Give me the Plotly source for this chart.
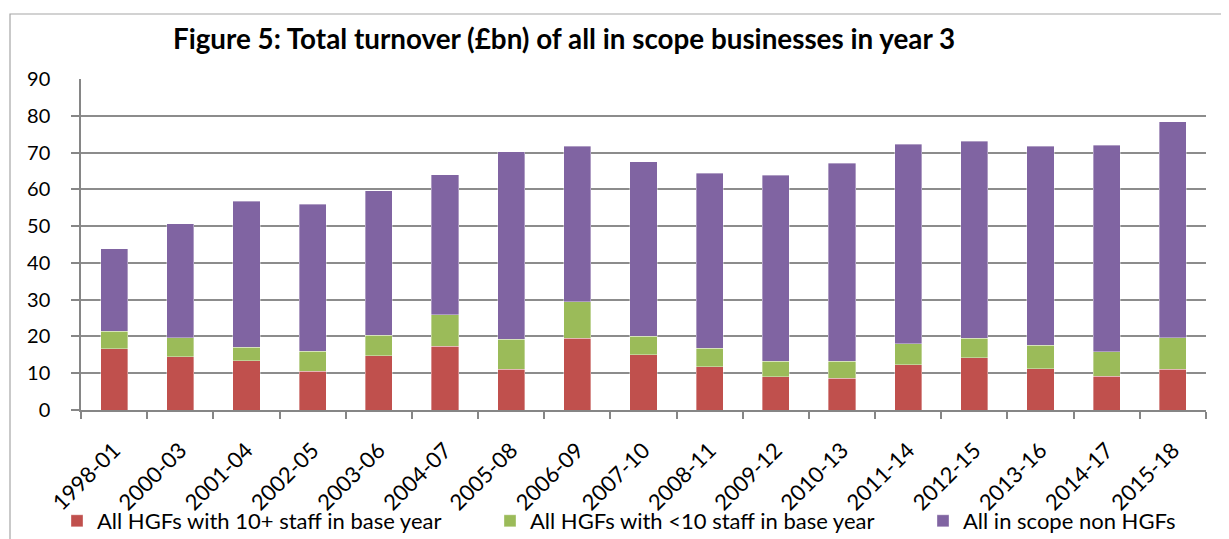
import plotly.graph_objects as go

categories = ["1998-01", "2000-03", "2001-04", "2002-05", "2003-06", "2004-07", "2005-08",
              "2006-09", "2007-10", "2008-11", "2009-12", "2010-13", "2011-14", "2012-15",
              "2013-16", "2014-17", "2015-18"]

# values (£bn)
hgf_10plus = [16.6, 14.5, 13.4, 10.5, 14.7, 17.4, 11.1, 19.5, 15.0, 11.7, 9.0, 8.7, 12.3, 14.2, 11.2, 9.2, 11.1]
hgf_lt10 = [4.8, 5.1, 3.7, 5.5, 5.6, 8.5, 8.2, 9.9, 5.1, 5.1, 4.3, 4.6, 5.7, 5.3, 6.4, 6.6, 8.5]
non_hgf = [22.4, 31.1, 39.7, 40.0, 39.3, 38.0, 50.9, 42.3, 47.4, 47.6, 50.5, 53.8, 54.2, 53.6, 54.1, 56.2, 58.8]

series_names = ["All HGFs with 10+ staff in base year",
                "All HGFs with <10 staff in base year",
                "All in scope non HGFs"]
colors = ["#C0504D", "#9BBB59", "#8064A2"]
legend_widths = [388, 388, 230]

y_ticks = [0, 10, 20, 30, 40, 50, 60, 70, 80, 90]

FONT = "Lato"
AX = "#868686"
CLEAR = "rgba(0,0,0,0)"
n = len(categories)
x_pos = list(range(n))          # category slots
x_bounds = [i - 0.5 for i in range(n + 1)]  # slot boundaries (tick marks)

fig = go.Figure()
for name, vals, col, lw in zip(series_names, [hgf_10plus, hgf_lt10, non_hgf], colors, legend_widths):
    fig.add_trace(go.Bar(x=x_pos, y=vals, name=name, legendwidth=lw,
                         customdata=categories, hovertemplate="%{customdata}: %{y}<extra>" + name + "</extra>",
                         marker=dict(color=col, line=dict(width=0.6, color="rgba(255,255,255,0.6)"))))

W, H = 1229, 539
L, R, T, B = 73, 31, 71, 137
pw, ph = W - L - R, H - T - B

def px(p):
    return (p - L) / pw

def py(p):
    return (H - B - p) / ph

border = "M {l},{b} L {l},{t} L {r},{t} L {r},{b}".format(l=px(2), t=py(6), r=px(1227.5), b=py(560))

fig.update_layout(
    width=W, height=H,
    barmode="stack", bargap=0.59,
    paper_bgcolor="white", plot_bgcolor="white",
    margin=dict(l=L, r=R, t=T, b=B, autoexpand=False),
    font=dict(family=FONT, color="black"),
    title=dict(text="<b>Figure 5: Total turnover (£bn) of all in scope businesses in year 3</b>",
               x=556 / W, xanchor="center", xref="container",
               y=1 - 31 / H, yanchor="middle", yref="container",
               font=dict(family=FONT, size=27.8, color="black")),
    xaxis=dict(range=[-0.5, n - 0.5], tickmode="array", tickvals=x_pos, ticktext=categories,
               tickangle=-45, tickfont=dict(size=22),
               ticks="outside", ticklen=17, tickcolor=CLEAR,
               showline=True, linecolor=AX, linewidth=1.5,
               showgrid=False, zeroline=False,
               minor=dict(tickmode="array", tickvals=x_bounds, ticks="outside",
                          ticklen=7, tickcolor=AX, tickwidth=1.5, showgrid=False)),
    yaxis=dict(range=[0, 90], tickvals=y_ticks, tickfont=dict(size=20),
               ticks="outside", ticklen=25, tickcolor=CLEAR,
               showline=True, linecolor=AX, linewidth=1.5,
               showgrid=True, gridcolor="#8C8C8C", gridwidth=1.5, zeroline=False,
               minor=dict(tickmode="array", tickvals=[v + 0.01 for v in y_ticks], ticks="outside",
                          ticklen=8, tickcolor=AX, tickwidth=1.5, showgrid=False)),
    legend=dict(orientation="h", x=px(49), xanchor="left", y=py(513), yanchor="middle",
                font=dict(size=22),
                traceorder="normal", bgcolor="rgba(0,0,0,0)"),
    shapes=[dict(type="path", path=border, xref="paper", yref="paper",
                 line=dict(color="#A6A6A6", width=1.2), layer="below")],
    showlegend=True,
)

fig.write_html("out.html")
